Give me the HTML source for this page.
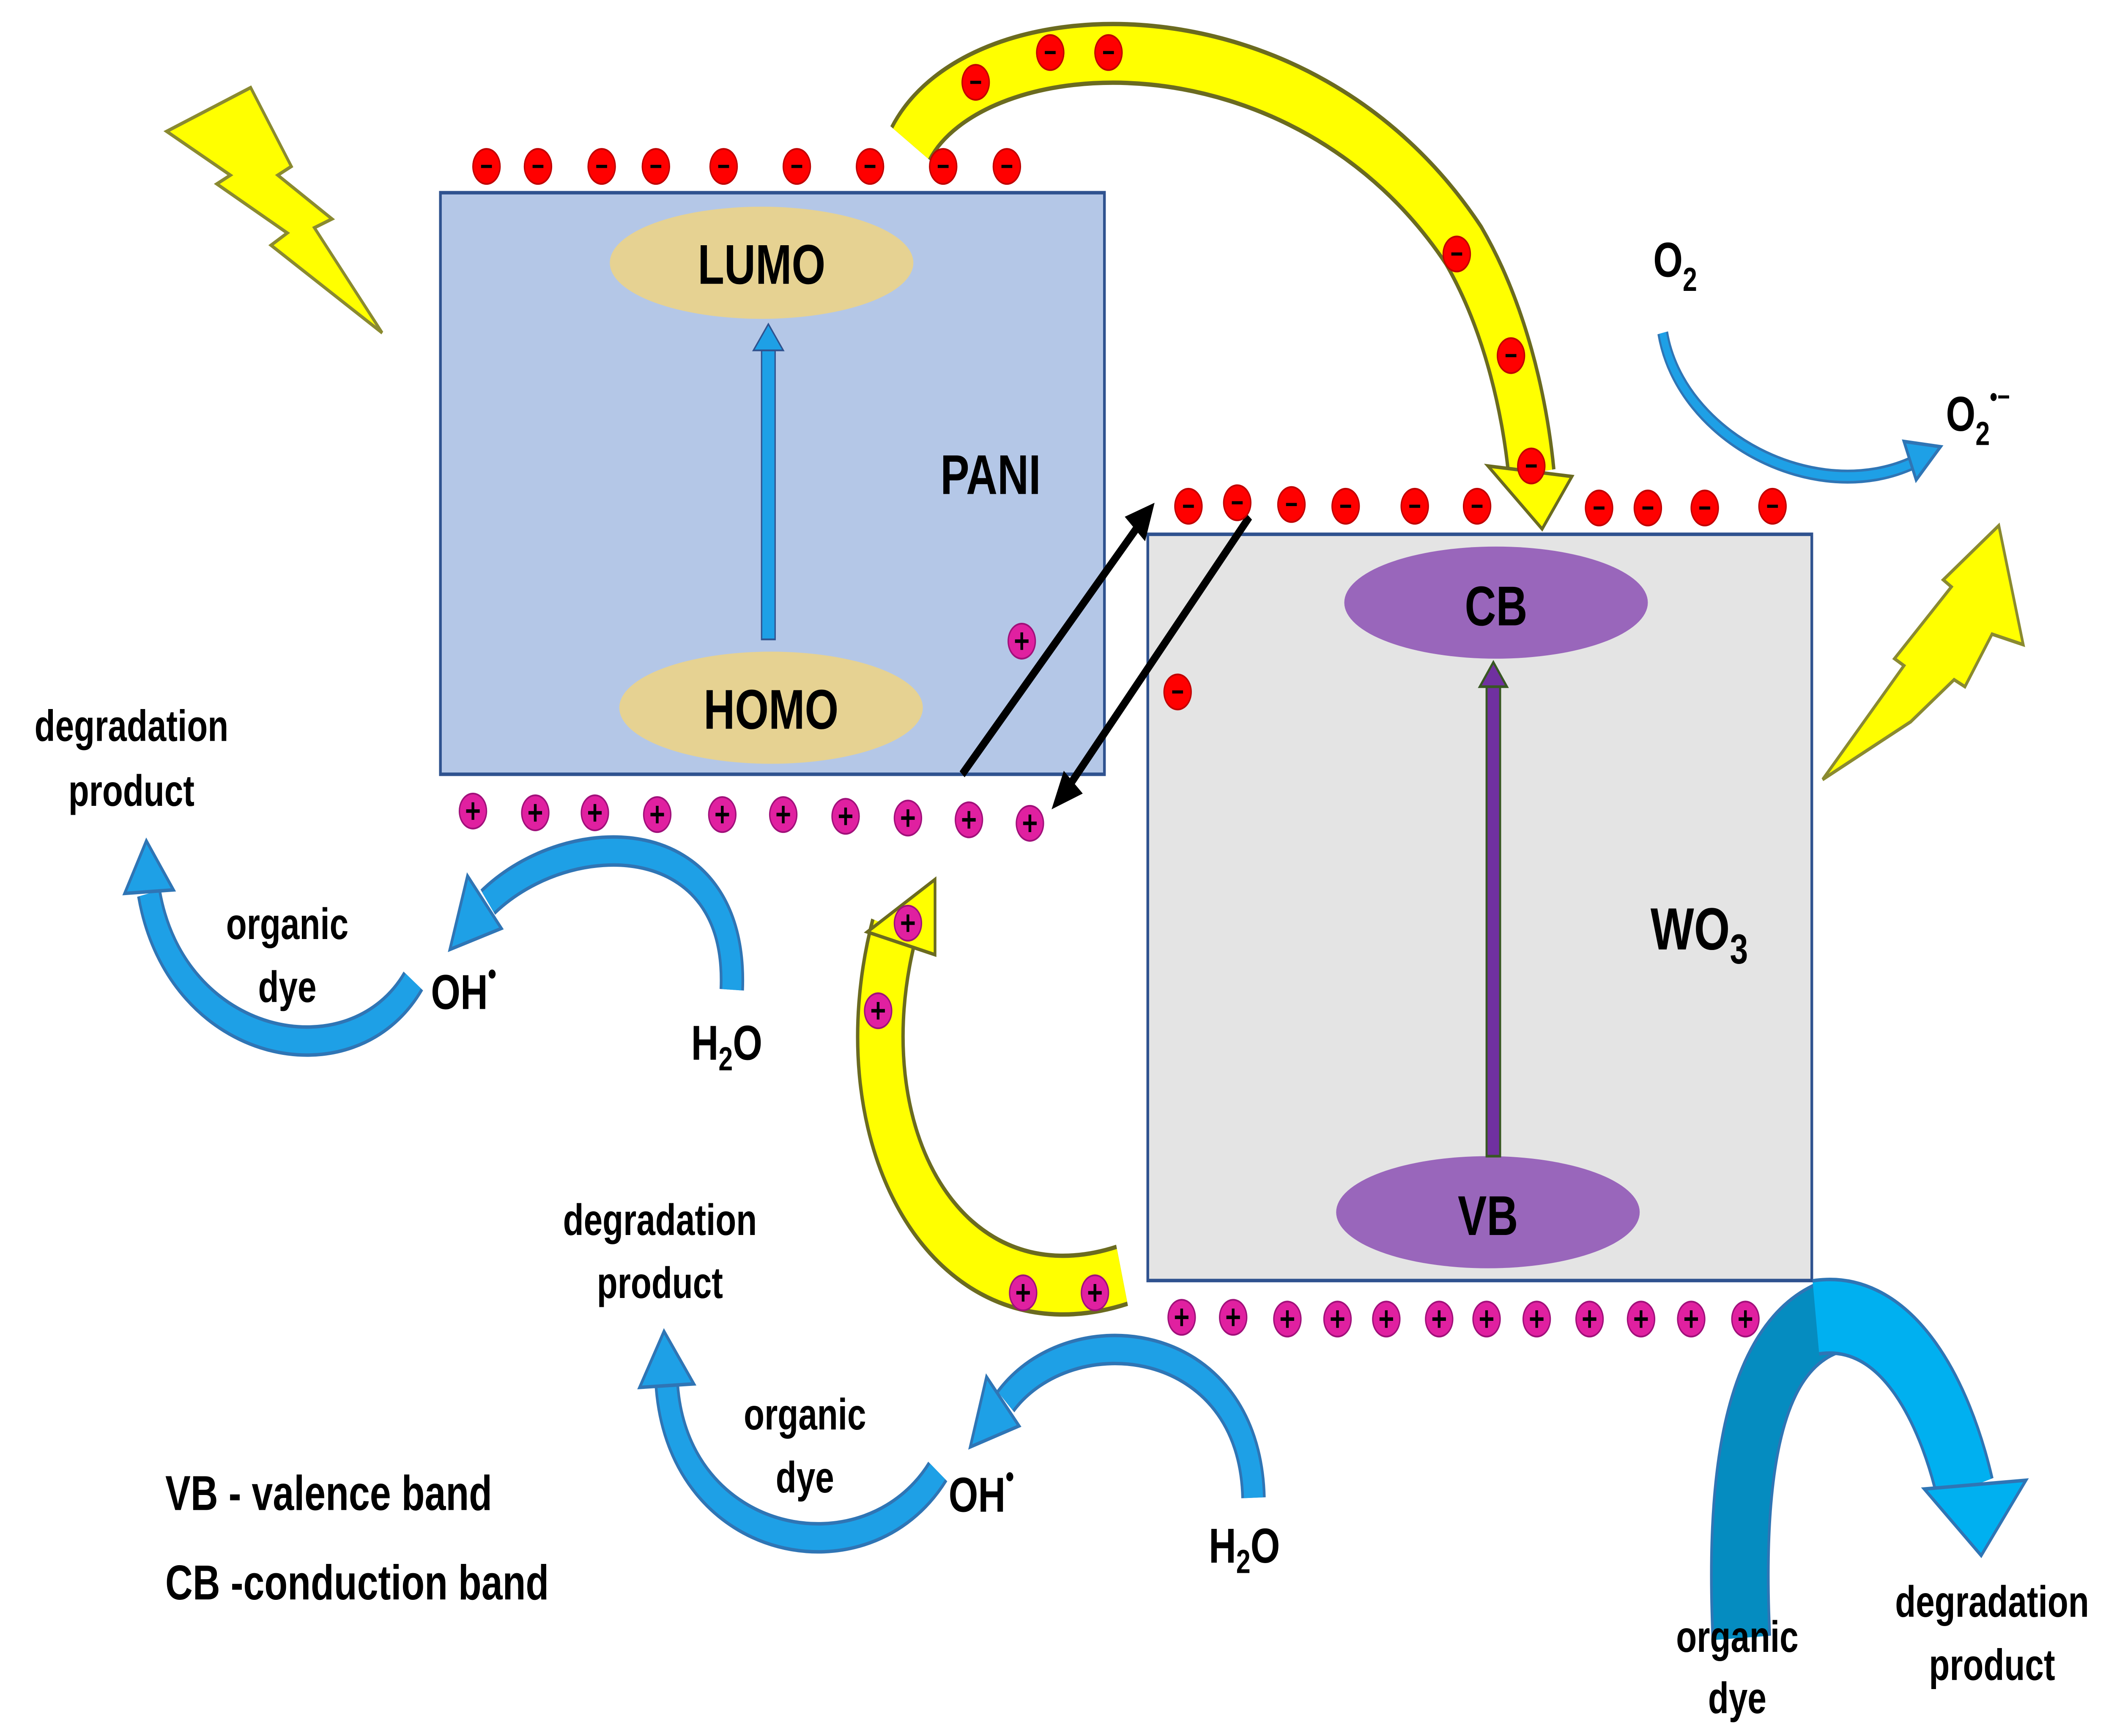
<!DOCTYPE html>
<html><head><meta charset="utf-8"><style>
html,body{margin:0;padding:0;background:#fff;width:100%;height:100%;overflow:hidden}
svg{display:block;position:fixed;left:0;top:0;width:100vw;height:100vh}
text{font-family:"Liberation Sans",sans-serif;font-weight:bold;fill:#000}
</style></head><body>
<svg viewBox="0 0 1560 991" preserveAspectRatio="none" xmlns="http://www.w3.org/2000/svg">
<defs>
<g id="e"><circle r="10" fill="#ff0000" stroke="#c00000" stroke-width="1"/><rect x="-4" y="-0.9" width="8" height="1.8" fill="#000"/></g>
<g id="h"><circle r="10" fill="#e020a0" stroke="#a0107a" stroke-width="1"/><rect x="-5" y="-1" width="10" height="2" fill="#000"/><rect x="-1" y="-5" width="2" height="10" fill="#000"/></g>
</defs>
<rect width="1560" height="991" fill="#fff"/>

<polygon points="123,75 185,50 215,95 205,100 245,125 232,130 282,190 200,140 212,133 160,105 170,100" fill="#ffff00" stroke="#8a8a30" stroke-width="2"/>
<polygon points="1345,445 1405,380 1398,376 1440,335 1434,331 1475,300 1493,368 1470,362 1450,392 1442,388 1410,412" fill="#ffff00" stroke="#8a8a30" stroke-width="2"/>

<rect x="325" y="110" width="490" height="332" fill="#b4c7e7" stroke="#2f528f" stroke-width="2"/>
<ellipse cx="562" cy="150" rx="112" ry="32" fill="#e6d292"/>
<ellipse cx="569" cy="404" rx="112" ry="32" fill="#e6d292"/>
<rect x="562" y="200" width="10" height="165" fill="#1ea0e6" stroke="#2f528f" stroke-width="1"/>
<polygon points="556,200 567,185 578,200" fill="#1ea0e6" stroke="#2f528f" stroke-width="1"/>
<text x="562" y="162" font-size="32" text-anchor="middle">LUMO</text>
<text x="569" y="416" font-size="32" text-anchor="middle">HOMO</text>
<text x="731" y="282" font-size="32" text-anchor="middle">PANI</text>

<rect x="847" y="305" width="490" height="426" fill="#e4e4e4" stroke="#2f528f" stroke-width="2"/>
<ellipse cx="1104" cy="344" rx="112" ry="32" fill="#9966bb"/>
<ellipse cx="1098" cy="692" rx="112" ry="32" fill="#9966bb"/>
<rect x="1097" y="392" width="10" height="268" fill="#7030a0" stroke="#385723" stroke-width="1.5"/>
<polygon points="1092,392 1102,378 1112,392" fill="#7030a0" stroke="#385723" stroke-width="1.5"/>
<text x="1104" y="357" font-size="32" text-anchor="middle">CB</text>
<text x="1098" y="705" font-size="32" text-anchor="middle">VB</text>
<text x="1218" y="542" font-size="34">WO<tspan font-size="24" dy="8">3</tspan></text>

<path d="M672,82 C720,10 960,0 1080,140 C1110,180 1125,230 1130,270" fill="none" stroke="#6b6b20" stroke-width="36"/>
<path d="M672,82 C720,10 960,0 1080,140 C1110,180 1125,230 1130,270" fill="none" stroke="#ffff00" stroke-width="31"/>
<polygon points="1098,266 1160,272 1138,302" fill="#ffff00" stroke="#6b6b20" stroke-width="2"/>
<path d="M828,728 C700,760 620,650 660,530" fill="none" stroke="#6b6b20" stroke-width="36"/>
<path d="M828,728 C700,760 620,650 660,530" fill="none" stroke="#ffff00" stroke-width="31"/>
<polygon points="640,532 690,502 690,545" fill="#ffff00" stroke="#6b6b20" stroke-width="2"/>

<line x1="710" y1="442" x2="842" y2="298" stroke="#000" stroke-width="5"/>
<polygon points="852,287 830,295 845,309" fill="#000"/>
<line x1="922" y1="295" x2="786" y2="452" stroke="#000" stroke-width="5"/>
<polygon points="776,462 785,440 799,453" fill="#000"/>

<g>
<use href="#e" x="359" y="95"/><use href="#e" x="397" y="95"/><use href="#e" x="444" y="95"/><use href="#e" x="484" y="95"/><use href="#e" x="534" y="95"/><use href="#e" x="588" y="95"/><use href="#e" x="642" y="95"/><use href="#e" x="696" y="95"/><use href="#e" x="743" y="95"/>
<use href="#e" x="877" y="289"/><use href="#e" x="913" y="287"/><use href="#e" x="953" y="288"/><use href="#e" x="993" y="289"/><use href="#e" x="1044" y="289"/><use href="#e" x="1090" y="289"/><use href="#e" x="1180" y="290"/><use href="#e" x="1216" y="290"/><use href="#e" x="1258" y="290"/><use href="#e" x="1308" y="289"/>
<use href="#e" x="720" y="47"/><use href="#e" x="775" y="30"/><use href="#e" x="818" y="30"/><use href="#e" x="1075" y="145"/><use href="#e" x="1115" y="203"/><use href="#e" x="1130" y="266"/><use href="#e" x="869" y="395"/>
</g>
<g>
<use href="#h" x="349" y="463"/><use href="#h" x="395" y="464"/><use href="#h" x="439" y="464"/><use href="#h" x="485" y="465"/><use href="#h" x="533" y="465"/><use href="#h" x="578" y="465"/><use href="#h" x="624" y="466"/><use href="#h" x="670" y="467"/><use href="#h" x="715" y="468"/><use href="#h" x="760" y="470"/>
<use href="#h" x="754" y="366"/>
<use href="#h" x="872" y="752"/><use href="#h" x="910" y="752"/><use href="#h" x="950" y="753"/><use href="#h" x="987" y="753"/><use href="#h" x="1023" y="753"/><use href="#h" x="1062" y="753"/><use href="#h" x="1097" y="753"/><use href="#h" x="1134" y="753"/><use href="#h" x="1173" y="753"/><use href="#h" x="1211" y="753"/><use href="#h" x="1248" y="753"/><use href="#h" x="1288" y="753"/><use href="#h" x="1323" y="753"/>
<use href="#h" x="670" y="527"/><use href="#h" x="648" y="577"/><use href="#h" x="755" y="738"/><use href="#h" x="808" y="738"/>
</g>

<g fill="none" stroke-linecap="butt">
<path d="M540,565 C545,470 420,470 360,515" stroke="#2f75b5" stroke-width="18"/>
<path d="M540,565 C545,470 420,470 360,515" stroke="#1ea0e6" stroke-width="14"/>
<path d="M305,560 C260,620 130,600 110,510" stroke="#2f75b5" stroke-width="18"/>
<path d="M305,560 C260,620 130,600 110,510" stroke="#1ea0e6" stroke-width="14"/>
<path d="M925,855 C922,760 790,750 742,800" stroke="#2f75b5" stroke-width="18"/>
<path d="M925,855 C922,760 790,750 742,800" stroke="#1ea0e6" stroke-width="14"/>
<path d="M692,840 C640,905 500,885 492,790" stroke="#2f75b5" stroke-width="18"/>
<path d="M692,840 C640,905 500,885 492,790" stroke="#1ea0e6" stroke-width="14"/>
<path d="M1285,935 C1280,850 1290,770 1350,752" stroke="#2f75b5" stroke-width="44"/>
<path d="M1285,935 C1280,850 1290,770 1350,752" stroke="#058cc0" stroke-width="40"/>
<path d="M1340,752 C1400,745 1435,800 1450,850" stroke="#2f75b5" stroke-width="44"/>
<path d="M1340,752 C1400,745 1435,800 1450,850" stroke="#00b0f0" stroke-width="40"/>
<path d="M1227,190 C1240,250 1340,290 1412,264" stroke="#2f75b5" stroke-width="8"/>
<path d="M1227,190 C1240,250 1340,290 1412,264" stroke="#1ea0e6" stroke-width="5"/>
</g>
<g fill="#1ea0e6" stroke="#2f75b5" stroke-width="2">
<polygon points="345,500 370,530 332,542"/>
<polygon points="92,510 108,480 128,508"/>
<polygon points="728,786 752,814 716,826"/>
<polygon points="472,792 490,760 512,790"/>
<polygon points="1420,850 1495,845 1462,888" fill="#00b0f0"/>
<polygon points="1405,252 1432,255 1414,274"/>
</g>

<g font-size="25" text-anchor="middle">
<text x="97" y="423">degradation</text><text x="97" y="460">product</text>
<text x="212" y="536">organic</text><text x="212" y="572">dye</text>
<text x="487" y="705">degradation</text><text x="487" y="741">product</text>
<text x="594" y="816">organic</text><text x="594" y="852">dye</text>
<text x="1282" y="943">organic</text><text x="1282" y="978">dye</text>
<text x="1470" y="923">degradation</text><text x="1470" y="959">product</text>
</g>
<g font-size="28">
<text x="318" y="576">OH<tspan font-size="18" dy="-14">•</tspan></text>
<text x="510" y="605">H<tspan font-size="19" dy="6">2</tspan><tspan dy="-6">O</tspan></text>
<text x="700" y="863">OH<tspan font-size="18" dy="-14">•</tspan></text>
<text x="892" y="892">H<tspan font-size="19" dy="6">2</tspan><tspan dy="-6">O</tspan></text>
<text x="1220" y="158">O<tspan font-size="19" dy="8">2</tspan></text>
<text x="1436" y="246">O<tspan font-size="19" dy="8">2</tspan><tspan font-size="16" dy="-22">•−</tspan></text>
<text x="122" y="862">VB  - valence band</text>
<text x="122" y="913">CB  -conduction band</text>
</g>
</svg>
</body></html>
